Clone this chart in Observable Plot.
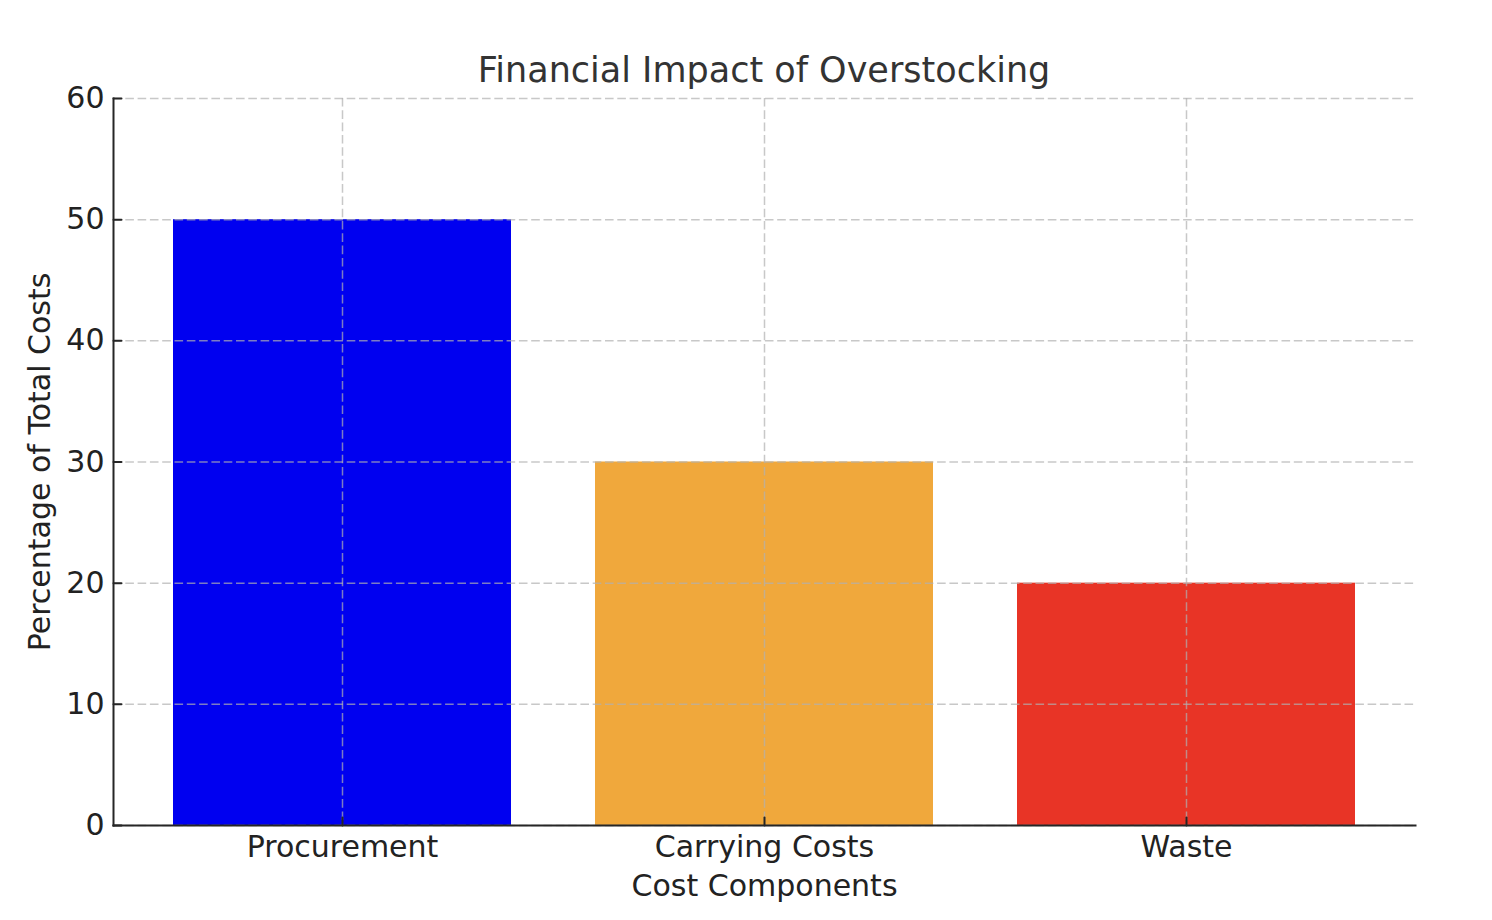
<!DOCTYPE html>
<html><head><meta charset="utf-8">
<script src="https://cdn.jsdelivr.net/npm/d3@7"></script>
<script src="https://cdn.jsdelivr.net/npm/@observablehq/plot@0.6"></script>
<style>
body{margin:0;background:#fff;font-family:"DejaVu Sans",sans-serif;}
#wrap{width:1492px;}
#title{position:relative;z-index:2;height:60px;}
#title span{position:absolute;left:113px;right:77px;top:53px;text-align:center;font-size:35px;line-height:35px;color:#333;white-space:nowrap;}
</style></head>
<body><div id="wrap"><div id="title"><span>Financial Impact of Overstocking</span></div><div id="chart"></div></div>
<script>
const categories = ["Procurement", "Carrying Costs", "Waste"];
const values = [50, 30, 20];
const colors = ["#0000f0", "#f0a83c", "#e83426"];
const yTicks = [0, 10, 20, 30, 40, 50, 60];
const xLabel = "Cost Components";
const yLabel = "Percentage of Total Costs";

const data = categories.map((c, i) => ({category: c, value: values[i]}));
const tickShape = {draw(ctx, l) { ctx.moveTo(0, 0); ctx.lineTo(0, -l); }};
const ink = "#262626";
const gridStyle = {stroke: "#b0b0b0", strokeOpacity: 0.7, strokeWidth: 1.5, strokeDasharray: "8.6,3.7"};

const chart = Plot.plot({
  width: 1492, height: 860,
  marginTop: 38, marginBottom: 95, marginLeft: 113, marginRight: 77,
  style: {fontFamily: "DejaVu Sans", fontSize: "30px", color: "#222", background: "transparent", overflow: "visible"},
  x: {domain: categories, paddingInner: 0.2, paddingOuter: 0.14, label: null},
  y: {domain: [0, 60], label: null},
  color: {domain: categories, range: colors},
  marks: [
    Plot.barY(data, {x: "category", y: "value", fill: "category"}),
    Plot.gridX(categories, gridStyle),
    Plot.gridY(yTicks, gridStyle),
    Plot.frame({anchor: "left", stroke: ink, strokeWidth: 2}),
    Plot.frame({anchor: "bottom", stroke: ink, strokeWidth: 2}),
    Plot.vector(categories, {x: d => d, frameAnchor: "bottom", length: 8, rotate: 0, anchor: "start", shape: tickShape, stroke: ink, strokeWidth: 2}),
    Plot.vector(yTicks, {y: d => d, frameAnchor: "left", length: 8, rotate: 90, anchor: "start", shape: tickShape, stroke: ink, strokeWidth: 2}),
    Plot.axisY(yTicks, {tickSize: 0, tickPadding: 9, fontSize: 30, fill: "#222", label: null}),
    Plot.axisX({tickSize: 0, tickPadding: 10, fontSize: 30, fill: "#222", label: null}),
    Plot.text([yLabel], {frameAnchor: "left", dx: -73, rotate: -90, textAnchor: "middle", lineAnchor: "middle", fontSize: 30, fill: "#222"}),
    Plot.text([xLabel], {frameAnchor: "bottom", dy: 61, textAnchor: "middle", lineAnchor: "middle", fontSize: 30, fill: "#222"})
  ]
});
document.getElementById("chart").appendChild(chart);
</script>
</body></html>
